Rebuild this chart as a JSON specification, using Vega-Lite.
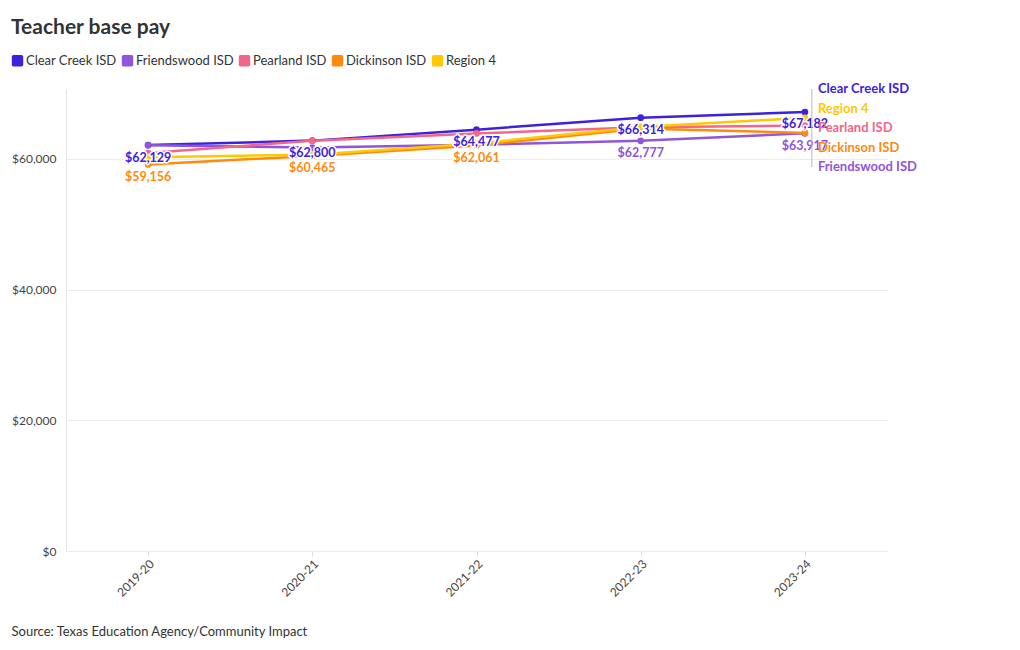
{
  "$schema": "https://vega.github.io/schema/vega-lite/v6.json",
  "width": 821,
  "height": 462,
  "autosize": {"type": "none"},
  "padding": {"left": 66, "top": 89, "right": 133, "bottom": 99},
  "title": {"text": "Teacher base pay", "anchor": "start", "frame": "group", "dx": -55, "fontSize": 21, "fontWeight": "bold", "color": "#333333", "font": "Lato", "offset": 16},
  "config": {
    "font": "Lato",
    "view": {"stroke": null},
    "axis": {"labelColor": "#444444", "labelFontSize": 12, "gridColor": "#ececec", "domainColor": "#e6e6e6", "tickColor": "#dddddd"}
  },
  "data": {"values": [
    {"year": "2019-20", "series": "Clear Creek ISD", "pay": 62129},
    {"year": "2020-21", "series": "Clear Creek ISD", "pay": 62800},
    {"year": "2021-22", "series": "Clear Creek ISD", "pay": 64477},
    {"year": "2022-23", "series": "Clear Creek ISD", "pay": 66314},
    {"year": "2023-24", "series": "Clear Creek ISD", "pay": 67182},
    {"year": "2019-20", "series": "Friendswood ISD", "pay": 62080},
    {"year": "2020-21", "series": "Friendswood ISD", "pay": 61730},
    {"year": "2021-22", "series": "Friendswood ISD", "pay": 62150},
    {"year": "2022-23", "series": "Friendswood ISD", "pay": 62777},
    {"year": "2023-24", "series": "Friendswood ISD", "pay": 63917},
    {"year": "2019-20", "series": "Pearland ISD", "pay": 60900},
    {"year": "2020-21", "series": "Pearland ISD", "pay": 62780},
    {"year": "2021-22", "series": "Pearland ISD", "pay": 63900},
    {"year": "2022-23", "series": "Pearland ISD", "pay": 64850},
    {"year": "2023-24", "series": "Pearland ISD", "pay": 65100},
    {"year": "2019-20", "series": "Dickinson ISD", "pay": 59156},
    {"year": "2020-21", "series": "Dickinson ISD", "pay": 60465},
    {"year": "2021-22", "series": "Dickinson ISD", "pay": 62061},
    {"year": "2022-23", "series": "Dickinson ISD", "pay": 64650},
    {"year": "2023-24", "series": "Dickinson ISD", "pay": 63980},
    {"year": "2019-20", "series": "Region 4", "pay": 60260},
    {"year": "2020-21", "series": "Region 4", "pay": 60650},
    {"year": "2021-22", "series": "Region 4", "pay": 62350},
    {"year": "2022-23", "series": "Region 4", "pay": 64900},
    {"year": "2023-24", "series": "Region 4", "pay": 66300}
  ]},
  "layer": [
    {
      "encoding": {
        "x": {"field": "year", "type": "ordinal", "scale": {"type": "point", "padding": 0.5},
          "axis": {"labelAngle": -45, "tickSize": 5, "domain": false, "title": "Source: Texas Education Agency/Community Impact", "titleFontSize": 13, "titleFontWeight": "normal", "titleColor": "#333333", "titleAnchor": "start", "titleAlign": "left", "titleX": -55, "titleY": 80, "titleBaseline": "middle"}},
        "y": {"field": "pay", "type": "quantitative", "scale": {"domain": [0, 70700], "nice": false},
          "axis": {"values": [0, 20000, 40000, 60000], "format": "$,.0f", "title": null, "ticks": false, "labelPadding": 10, "domain": true}}
      },
      "layer": [
        {
          "mark": {"type": "line", "strokeWidth": 2.5},
          "encoding": {
            "color": {"field": "series", "type": "nominal",
              "scale": {"domain": ["Clear Creek ISD", "Friendswood ISD", "Pearland ISD", "Dickinson ISD", "Region 4"],
                        "range": ["#3c22dc", "#8f55dd", "#f2668b", "#ff8a0e", "#ffc800"]},
              "legend": {"orient": "none", "legendX": -55, "legendY": -35, "direction": "horizontal", "title": null,
                "symbolType": "M-0.7,-1H0.7Q1,-1 1,-0.7V0.7Q1,1 0.7,1H-0.7Q-1,1 -1,0.7V-0.7Q-1,-1 -0.7,-1Z",
                "symbolSize": 130, "symbolOpacity": 1, "symbolStrokeWidth": 0, "labelFontSize": 13, "labelColor": "#333333", "columnPadding": 4, "labelOffset": 2}},
            "order": {"field": "series", "sort": "descending"}
          }
        },
        {
          "mark": {"type": "point", "filled": true, "size": 45, "opacity": 1},
          "encoding": {"color": {"field": "series", "type": "nominal", "legend": null}}
        },
        {
          "transform": [
            {"joinaggregate": [{"op": "max", "field": "pay", "as": "maxPay"}, {"op": "min", "field": "pay", "as": "minPay"}], "groupby": ["year"]},
            {"filter": "datum.pay == datum.maxPay || datum.pay == datum.minPay"}
          ],
          "layer": [
            {
              "mark": {"type": "text", "fontSize": 12.5, "fontWeight": "bold", "dy": 12.5, "baseline": "middle", "stroke": "white", "strokeWidth": 3, "fill": "white", "strokeJoin": "round"},
              "encoding": {"text": {"field": "pay", "format": "$,.0f"}}
            },
            {
              "mark": {"type": "text", "fontSize": 12.5, "fontWeight": "bold", "dy": 12.5, "baseline": "middle"},
              "encoding": {"text": {"field": "pay", "format": "$,.0f"}, "color": {"field": "series", "type": "nominal", "legend": null}}
            }
          ]
        }
      ]
    },
    {
      "transform": [{"filter": "datum.year == '2023-24'"}],
      "encoding": {
        "x": {"datum": "2023-24", "type": "ordinal"}
      },
      "layer": [
        {
          "transform": [{"filter": "datum.series == 'Clear Creek ISD'"}],
          "mark": {"type": "rule", "color": "#bbbbbb", "strokeWidth": 1, "xOffset": 7},
          "encoding": {
            "y": {"datum": "Clear Creek ISD", "type": "nominal", "scale": {"type": "point", "domain": ["Clear Creek ISD", "Region 4", "Pearland ISD", "Dickinson ISD", "Friendswood ISD"], "range": [0, 78], "padding": 0}, "axis": null},
            "y2": {"datum": "Friendswood ISD"}
          }
        },
        {
          "mark": {"type": "text", "align": "left", "baseline": "middle", "dx": 13, "fontSize": 13, "fontWeight": "bold"},
          "encoding": {
            "y": {"field": "series", "type": "nominal", "axis": null},
            "text": {"field": "series"},
            "color": {"field": "series", "type": "nominal", "legend": null}
          }
        }
      ]
    }
  ],
  "resolve": {"scale": {"y": "independent"}, "axis": {"y": "independent"}}
}
